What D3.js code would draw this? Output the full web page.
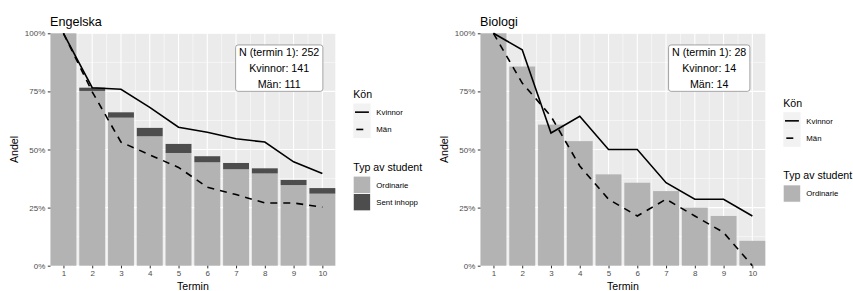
<!DOCTYPE html>
<html>
<head>
<meta charset="utf-8">
<script src="https://cdn.jsdelivr.net/npm/d3@7"></script>
<style>
  body { margin: 0; background: #fff; }
  svg { display: block; font-family: "Liberation Sans", Arial, sans-serif; }
</style>
</head>
<body>
<svg id="chart" width="853" height="291"></svg>
<script>
const terms = [1, 2, 3, 4, 5, 6, 7, 8, 9, 10];
const yTicks = [0, 0.25, 0.5, 0.75, 1];
const yTickLabels = ["0%", "25%", "50%", "75%", "100%"];

// Engelska (percent of term-1 cohort)
const engOrdinarie = [100, 75.2, 63.7, 55.7, 48.5, 44.5, 41.5, 39.7, 34.7, 31.0];
const engSent = [0, 1.4, 2.3, 3.6, 3.9, 2.6, 2.7, 2.2, 2.2, 2.4];
const engKvinnor = [100, 76.6, 75.9, 68.1, 59.6, 57.4, 54.6, 53.2, 44.7, 39.7];
const engMan = [100, 74.8, 53.2, 47.7, 42.3, 33.8, 30.6, 27.0, 27.0, 25.2];
const engInfo = ["N (termin 1): 252", "Kvinnor: 141", "Män: 111"];

// Biologi
const bioOrdinarie = [100, 85.7, 60.7, 53.6, 39.3, 35.7, 32.1, 25.0, 21.4, 10.7];
const bioSent = [0, 0, 0, 0, 0, 0, 0, 0, 0, 0];
const bioKvinnor = [100, 92.9, 57.1, 64.3, 50, 50, 35.7, 28.6, 28.6, 21.4];
const bioMan = [100, 78.6, 64.3, 42.9, 28.6, 21.4, 28.6, 21.4, 14.3, 0];
const bioInfo = ["N (termin 1): 28", "Kvinnor: 14", "Män: 14"];

const genderKeys = [
  { name: "Kvinnor", dash: null },
  { name: "Män", dash: "7,7" },
];
const fillColors = { "Ordinarie": "#B3B3B3", "Sent inhopp": "#4D4D4D" };

const svg = d3.select("#chart");

function drawPanel({ dx, title, ordinarie, sent, kvinnor, man, info, fillKeys }) {
  const x = d3.scaleLinear().domain([0.55, 10.45]).range([dx + 50.5, dx + 335.3]);
  const y = d3.scaleLinear().domain([0, 1]).range([265.7, 33.3]);
  const [x0, x1] = x.range();
  const g = svg.append("g");

  // panel background + grid
  g.append("rect")
    .attr("x", x0).attr("y", y(1))
    .attr("width", x1 - x0).attr("height", y(0) - y(1))
    .attr("fill", "#EBEBEB");

  const minorY = [0.125, 0.375, 0.625, 0.875];
  g.selectAll("line.minY").data(minorY).join("line")
    .attr("x1", x0).attr("x2", x1)
    .attr("y1", (d) => y(d)).attr("y2", (d) => y(d))
    .attr("stroke", "#fff").attr("stroke-width", 0.55);
  g.selectAll("line.majY").data(yTicks).join("line")
    .attr("x1", x0).attr("x2", x1)
    .attr("y1", (d) => y(d)).attr("y2", (d) => y(d))
    .attr("stroke", "#fff").attr("stroke-width", 1.1);

  const minorX = terms.slice(0, -1).map((t) => t + 0.5);
  g.selectAll("line.minX").data(minorX).join("line")
    .attr("x1", (d) => x(d)).attr("x2", (d) => x(d))
    .attr("y1", y(0)).attr("y2", y(1))
    .attr("stroke", "#fff").attr("stroke-width", 0.55);
  g.selectAll("line.majX").data(terms).join("line")
    .attr("x1", (d) => x(d)).attr("x2", (d) => x(d))
    .attr("y1", y(0)).attr("y2", y(1))
    .attr("stroke", "#fff").attr("stroke-width", 1.1);

  // stacked bars
  const bw = (x(1.45) - x(0.55));
  const rows = terms.map((t, i) => ({ t, ord: ordinarie[i] / 100, sent: sent[i] / 100 }));
  g.selectAll("rect.ord").data(rows).join("rect")
    .attr("x", (d) => x(d.t) - bw / 2)
    .attr("y", (d) => y(d.ord))
    .attr("width", bw)
    .attr("height", (d) => y(0) - y(d.ord))
    .attr("fill", fillColors["Ordinarie"]);
  g.selectAll("rect.sent").data(rows.filter((d) => d.sent > 0)).join("rect")
    .attr("x", (d) => x(d.t) - bw / 2)
    .attr("y", (d) => y(d.ord + d.sent))
    .attr("width", bw)
    .attr("height", (d) => y(d.ord) - y(d.ord + d.sent))
    .attr("fill", fillColors["Sent inhopp"]);

  // gender lines
  const line = d3.line().x((d) => x(d.t)).y((d) => y(d.v));
  [[kvinnor, null], [man, "7,6"]].forEach(([vals, dash]) => {
    g.append("path")
      .datum(terms.map((t, i) => ({ t, v: vals[i] / 100 })))
      .attr("d", line)
      .attr("fill", "none")
      .attr("stroke", "#000")
      .attr("stroke-width", 1.6)
      .attr("stroke-dasharray", dash);
  });

  // axes
  const yAxis = g.append("g").attr("transform", `translate(${x0},0)`)
    .call(d3.axisLeft(y).tickValues(yTicks).tickFormat((d, i) => yTickLabels[i]).tickSize(2.7).tickPadding(2.5));
  const xAxis = g.append("g").attr("transform", `translate(0,${y(0)})`)
    .call(d3.axisBottom(x).tickValues(terms).tickFormat(d3.format("d")).tickSize(2.7).tickPadding(2.3));
  [yAxis, xAxis].forEach((a) => {
    a.select(".domain").remove();
    a.selectAll(".tick line").attr("stroke", "#333").attr("stroke-width", 1);
    a.selectAll(".tick text").attr("fill", "#4D4D4D")
      .style("font-size", "8px").style("font-family", "Liberation Sans, Arial, sans-serif");
  });

  // titles
  g.append("text").attr("x", x0 - 0.5).attr("y", 25.5)
    .style("font-size", "12.6px").text(title);
  g.append("text").attr("x", (x0 + x1) / 2).attr("y", 289.5)
    .attr("text-anchor", "middle").style("font-size", "10.6px").text("Termin");
  g.append("text")
    .attr("transform", `translate(${dx + 18},${(y(0) + y(1)) / 2}) rotate(-90)`)
    .attr("text-anchor", "middle").style("font-size", "10.6px").text("Andel");

  // info label
  const lab = g.append("g");
  const lx = x(8.5), ly = y(0.85);
  const txt = lab.selectAll("text").data(info).join("text")
    .attr("x", lx).attr("y", (d, i) => ly + (i - 1) * 16.3 + 3.8)
    .attr("text-anchor", "middle").style("font-size", "10.7px").text((d) => d);
  const bb = lab.node().getBBox();
  lab.insert("rect", "text")
    .attr("x", bb.x - 3.5).attr("y", ly - 23.2)
    .attr("width", bb.width + 7).attr("height", 46.4)
    .attr("rx", 2.5)
    .attr("fill", "#fff").attr("stroke", "#7f7f7f").attr("stroke-width", 0.7);

  // legends
  const lgX = x1 + 18;
  const lg = g.append("g");
  const legTop = fillKeys.length === 2 ? 98 : 106.7;
  lg.append("text").attr("x", lgX).attr("y", legTop).style("font-size", "10.6px").text("Kön");
  genderKeys.forEach((k, i) => {
    const ky = legTop + 5.5 + i * 17.3;
    lg.append("rect").attr("x", lgX).attr("y", ky).attr("width", 17.3).attr("height", 17.3).attr("fill", "#F2F2F2");
    lg.append("line")
      .attr("x1", lgX + (k.dash ? 3 : 1.7)).attr("x2", lgX + (k.dash ? 10 : 15.6))
      .attr("y1", ky + 8.65).attr("y2", ky + 8.65)
      .attr("stroke", "#000").attr("stroke-width", 1.6);
    lg.append("text").attr("x", lgX + 23).attr("y", ky + 11.3)
      .style("font-size", "7.8px").text(k.name);
  });
  const fillTop = legTop + 72.7;
  lg.append("text").attr("x", lgX).attr("y", fillTop).style("font-size", "10.6px").text("Typ av student");
  fillKeys.forEach((k, i) => {
    const ky = fillTop + 5.5 + i * 17.3;
    lg.append("rect").attr("x", lgX).attr("y", ky).attr("width", 17.3).attr("height", 17.3).attr("fill", "#F2F2F2");
    lg.append("rect").attr("x", lgX + 0.5).attr("y", ky + 0.5).attr("width", 16.3).attr("height", 16.3).attr("fill", fillColors[k]);
    lg.append("text").attr("x", lgX + 23).attr("y", ky + 11.3)
      .style("font-size", "7.8px").text(k);
  });
}

drawPanel({
  dx: 0, title: "Engelska",
  ordinarie: engOrdinarie, sent: engSent, kvinnor: engKvinnor, man: engMan,
  info: engInfo, fillKeys: ["Ordinarie", "Sent inhopp"],
});
drawPanel({
  dx: 430, title: "Biologi",
  ordinarie: bioOrdinarie, sent: bioSent, kvinnor: bioKvinnor, man: bioMan,
  info: bioInfo, fillKeys: ["Ordinarie"],
});
</script>
</body>
</html>
